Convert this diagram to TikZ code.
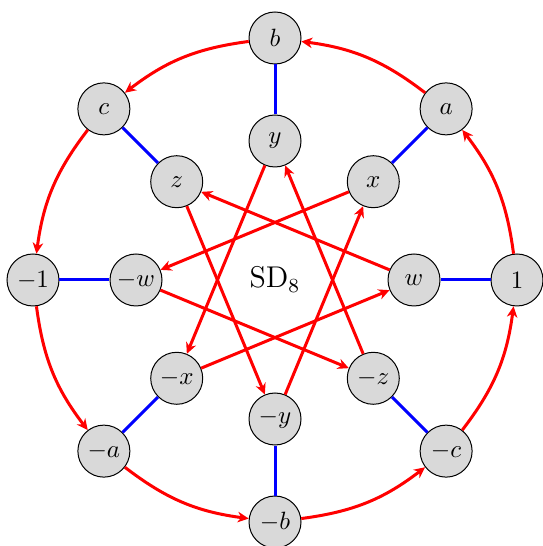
\documentclass[tikz,border=0pt]{standalone}
\usepackage{amsmath}
\usepackage{tikz}
\usetikzlibrary{arrows.meta}
\tikzset{ELEMENT/.style={circle,draw,thin,fill=gray!30,minimum size=20.8pt,inner sep=0.5pt}}
\tikzset{GEN_A/.style={red, line width=1.2pt, -{Stealth[length=4.4pt,width=4.2pt,inset=1.4pt]}}}
\tikzset{GEN_B/.style={blue, line width=1.2pt}}

\begin{document}
\begin{tikzpicture}

\useasboundingbox (-110pt,-106.4pt) rectangle (106.8pt,112pt);

% outer ring
\node[ELEMENT] (n_one) at (0:96.8pt) {$1$};
\node[ELEMENT] (n_a) at (45:96.8pt) {$a$};
\node[ELEMENT] (n_b) at (90:96.8pt) {$b$};
\node[ELEMENT] (n_c) at (135:96.8pt) {$c$};
\node[ELEMENT] (n_mone) at (180:96.8pt) {$-1$};
\node[ELEMENT] (n_ma) at (225:96.8pt) {$-a$};
\node[ELEMENT] (n_mb) at (270:96.8pt) {$-b$};
\node[ELEMENT] (n_mc) at (315:96.8pt) {$-c$};

% inner ring
\node[ELEMENT] (n_w) at (0:55.6pt) {$w$};
\node[ELEMENT] (n_x) at (45:55.6pt) {$x$};
\node[ELEMENT] (n_y) at (90:55.6pt) {$y$};
\node[ELEMENT] (n_z) at (135:55.6pt) {$z$};
\node[ELEMENT] (n_mw) at (180:55.6pt) {$-w$};
\node[ELEMENT] (n_mx) at (225:55.6pt) {$-x$};
\node[ELEMENT] (n_my) at (270:55.6pt) {$-y$};
\node[ELEMENT] (n_mz) at (315:55.6pt) {$-z$};

\node[font=\large] (n_group) at (0,0) {$\mathrm{SD}_8$};

% blue spokes
\draw[GEN_B] (n_one) -- (n_w);
\draw[GEN_B] (n_a) -- (n_x);
\draw[GEN_B] (n_b) -- (n_y);
\draw[GEN_B] (n_c) -- (n_z);
\draw[GEN_B] (n_mone) -- (n_mw);
\draw[GEN_B] (n_ma) -- (n_mx);
\draw[GEN_B] (n_mb) -- (n_my);
\draw[GEN_B] (n_mc) -- (n_mz);

% red arcs, outer ring
\draw[GEN_A] (n_one) to[bend right=15] (n_a);
\draw[GEN_A] (n_a) to[bend right=15] (n_b);
\draw[GEN_A] (n_b) to[bend right=15] (n_c);
\draw[GEN_A] (n_c) to[bend right=15] (n_mone);
\draw[GEN_A] (n_mone) to[bend right=15] (n_ma);
\draw[GEN_A] (n_ma) to[bend right=15] (n_mb);
\draw[GEN_A] (n_mb) to[bend right=15] (n_mc);
\draw[GEN_A] (n_mc) to[bend right=15] (n_one);

% red star, inner ring
\draw[GEN_A] (n_w) -- (n_z);
\draw[GEN_A] (n_x) -- (n_mw);
\draw[GEN_A] (n_y) -- (n_mx);
\draw[GEN_A] (n_z) -- (n_my);
\draw[GEN_A] (n_mw) -- (n_mz);
\draw[GEN_A] (n_mx) -- (n_w);
\draw[GEN_A] (n_my) -- (n_x);
\draw[GEN_A] (n_mz) -- (n_y);

\end{tikzpicture}
\end{document}
